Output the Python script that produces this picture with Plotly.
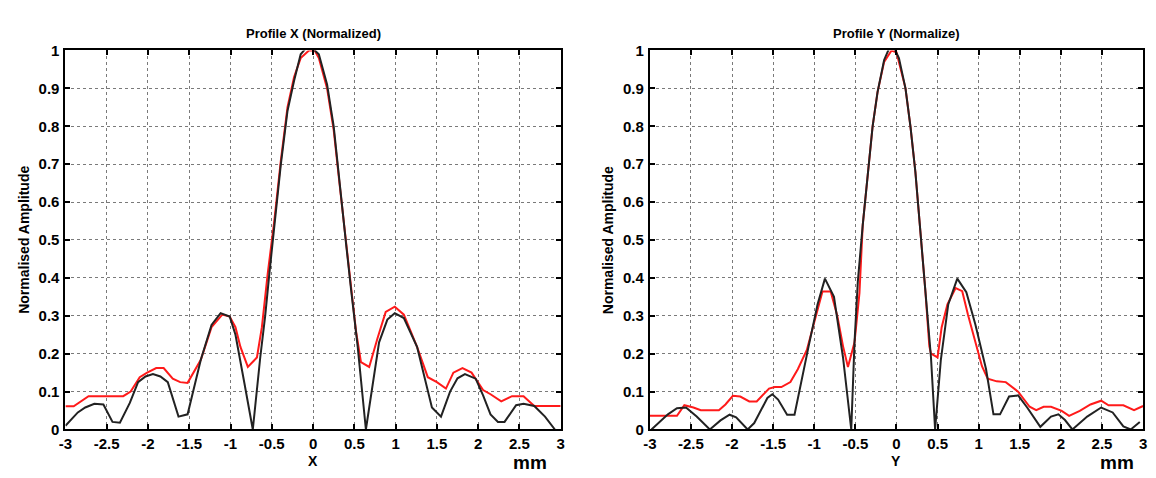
import plotly.graph_objects as go

# ---- data: Profile X ----
x_black_X = [-3.0, -2.85, -2.76, -2.65, -2.54, -2.43, -2.34, -2.22, -2.12, -2.03, -1.94, -1.85, -1.76,
             -1.63, -1.52, -1.44, -1.36, -1.23, -1.12, -1.01, -0.94, -0.83, -0.73, -0.64, -0.58, -0.53,
             -0.47, -0.39, -0.31, -0.23, -0.15, -0.05, 0.07, 0.17, 0.25, 0.32, 0.40, 0.46, 0.54, 0.64,
             0.72, 0.80, 0.90, 0.99, 1.10, 1.26, 1.44, 1.55, 1.66, 1.75, 1.84, 1.97, 2.06, 2.15, 2.24,
             2.32, 2.46, 2.55, 2.68, 2.81, 2.93]
y_black_X = [0.01, 0.045, 0.058, 0.068, 0.066, 0.02, 0.018, 0.07, 0.125, 0.14, 0.146, 0.14, 0.125,
             0.034, 0.04, 0.11, 0.184, 0.276, 0.307, 0.298, 0.25, 0.12, 0.0, 0.19, 0.30, 0.41,
             0.54, 0.70, 0.84, 0.92, 0.99, 1.015, 0.99, 0.91, 0.80, 0.65, 0.49, 0.37, 0.22, 0.0,
             0.12, 0.23, 0.29, 0.307, 0.294, 0.218, 0.058, 0.034, 0.10, 0.135, 0.146, 0.134, 0.09, 0.04, 0.02,
             0.02, 0.064, 0.068, 0.062, 0.034, 0.0]

x_red_X = [-3.0, -2.9, -2.72, -2.3, -2.21, -2.1, -2.01, -1.9, -1.81, -1.70, -1.61, -1.52, -1.36, -1.23,
           -1.1, -1.01, -0.94, -0.88, -0.79, -0.68, -0.62, -0.55, -0.47, -0.39, -0.31, -0.23, -0.15,
           -0.05, 0.02, 0.07, 0.17, 0.25, 0.32, 0.40, 0.46, 0.52, 0.58, 0.68, 0.78, 0.88, 0.99, 1.10,
           1.26, 1.39, 1.50, 1.61, 1.70, 1.81, 1.92, 2.06, 2.15, 2.28, 2.41, 2.55, 2.68, 3.0]
y_red_X = [0.061, 0.061, 0.088, 0.088, 0.10, 0.138, 0.15, 0.162, 0.162, 0.134, 0.125, 0.123, 0.184, 0.27,
           0.303, 0.298, 0.27, 0.218, 0.165, 0.19, 0.27, 0.41, 0.55, 0.71, 0.85, 0.93, 0.98,
           1.0, 1.0, 0.98, 0.90, 0.79, 0.65, 0.49, 0.38, 0.26, 0.178, 0.165, 0.24, 0.31, 0.324, 0.303,
           0.218, 0.138, 0.125, 0.108, 0.15, 0.162, 0.15, 0.104, 0.093, 0.074, 0.088, 0.088, 0.062, 0.062]

# ---- data: Profile Y ----
x_black_Y = [-2.98, -2.88, -2.78, -2.67, -2.56, -2.43, -2.27, -2.14, -2.03, -1.95, -1.81, -1.73, -1.57,
             -1.51, -1.44, -1.33, -1.24, -1.07, -0.96, -0.87, -0.76, -0.65, -0.55, -0.51, -0.47, -0.41,
             -0.35, -0.29, -0.23, -0.15, -0.06, 0.03, 0.11, 0.17, 0.23, 0.29, 0.35, 0.42, 0.47, 0.54,
             0.63, 0.74, 0.85, 0.96, 1.09, 1.18, 1.26, 1.37, 1.48, 1.59, 1.75, 1.88, 1.97, 2.05, 2.14,
             2.32, 2.49, 2.63, 2.76, 2.85, 2.96]
y_black_Y = [0.0, 0.02, 0.04, 0.056, 0.058, 0.034, 0.0, 0.024, 0.039, 0.032, 0.0, 0.017, 0.083,
             0.093, 0.079, 0.039, 0.039, 0.218, 0.33, 0.398, 0.35, 0.19, 0.0, 0.23, 0.39, 0.54,
             0.68, 0.80, 0.89, 0.975, 1.02, 0.98, 0.90, 0.80, 0.68, 0.53, 0.37, 0.19, 0.0, 0.184,
             0.33, 0.398, 0.362, 0.277, 0.159, 0.04, 0.04, 0.087, 0.09, 0.058, 0.007, 0.034, 0.04, 0.025, 0.0,
             0.034, 0.058, 0.045, 0.008, 0.0, 0.02]

x_red_Y = [-3.0, -2.67, -2.58, -2.47, -2.38, -2.16, -2.08, -1.99, -1.90, -1.79, -1.70, -1.55, -1.48,
           -1.40, -1.29, -1.20, -1.09, -0.98, -0.90, -0.80, -0.72, -0.65, -0.59, -0.51, -0.45, -0.41,
           -0.35, -0.29, -0.23, -0.15, -0.06, 0.0, 0.11, 0.17, 0.23, 0.29, 0.35, 0.40, 0.42, 0.50,
           0.55, 0.62, 0.72, 0.80, 0.87, 1.04, 1.11, 1.22, 1.33, 1.48, 1.62, 1.70, 1.79, 1.88, 2.01,
           2.10, 2.23, 2.36, 2.49, 2.58, 2.76, 2.89, 3.0]
y_red_Y = [0.036, 0.036, 0.064, 0.058, 0.051, 0.051, 0.066, 0.089, 0.087, 0.074, 0.074, 0.108, 0.112,
           0.112, 0.125, 0.159, 0.21, 0.303, 0.364, 0.364, 0.30, 0.22, 0.165, 0.23, 0.36, 0.54,
           0.68, 0.80, 0.89, 0.97, 1.0, 0.995, 0.90, 0.80, 0.68, 0.53, 0.37, 0.22, 0.20, 0.19,
           0.27, 0.33, 0.373, 0.365, 0.303, 0.167, 0.134, 0.127, 0.125, 0.10, 0.06, 0.051, 0.06, 0.06, 0.049,
           0.036, 0.049, 0.066, 0.076, 0.064, 0.064, 0.051, 0.062]

x_ticks = [-3, -2.5, -2, -1.5, -1, -0.5, 0, 0.5, 1, 1.5, 2, 2.5, 3]
x_tick_labels = ["-3", "-2.5", "-2", "-1.5", "-1", "-0.5", "0", "0.5", "1", "1.5", "2", "2.5", "3"]
y_ticks = [0, 0.1, 0.2, 0.3, 0.4, 0.5, 0.6, 0.7, 0.8, 0.9, 1]
y_tick_labels = ["0", "0.1", "0.2", "0.3", "0.4", "0.5", "0.6", "0.7", "0.8", "0.9", "1"]

titles = ["Profile X (Normalized)", "Profile Y (Normalize)"]
axis_names = ["X", "Y"]
y_title = "Normalised Amplitude"
unit = "mm"

FONT = "Liberation Sans Narrow, Liberation Sans, Arial, sans-serif"
W, H = 1156, 478

fig = go.Figure()
fig.add_trace(go.Scatter(x=x_red_X, y=y_red_X, mode="lines", line=dict(color="#ff1a1a", width=2),
                         xaxis="x", yaxis="y", showlegend=False))
fig.add_trace(go.Scatter(x=x_black_X, y=y_black_X, mode="lines", line=dict(color="#222222", width=2),
                         xaxis="x", yaxis="y", showlegend=False))
fig.add_trace(go.Scatter(x=x_red_Y, y=y_red_Y, mode="lines", line=dict(color="#ff1a1a", width=2),
                         xaxis="x2", yaxis="y2", showlegend=False))
fig.add_trace(go.Scatter(x=x_black_Y, y=y_black_Y, mode="lines", line=dict(color="#222222", width=2),
                         xaxis="x2", yaxis="y2", showlegend=False))

# pixel layout of the two plot frames
frames = [(59, 559), (649, 1147)]
top_px, bot_px = 43, 436
ydom = [1 - bot_px / H, 1 - top_px / H]

tickfont = dict(family=FONT, size=15, color="black", weight="bold")
axis_common = dict(showline=True, linecolor="black", linewidth=2, mirror="ticks",
                   ticks="inside", ticklen=5, tickwidth=1.5, tickcolor="black",
                   showgrid=True, gridcolor="#7a7a7a", gridwidth=1, griddash="dot",
                   zeroline=False, tickfont=tickfont)

bx = ["<b>%s</b>" % t for t in x_tick_labels]
by = ["<b>%s</b>" % t for t in y_tick_labels]

for i, (l, r) in enumerate(frames):
    sfx = "" if i == 0 else str(i + 1)
    fig.layout["xaxis" + sfx] = dict(domain=[l / W, r / W], range=[-3, 3], tickvals=x_ticks,
                                     ticktext=bx, anchor="y" + sfx, ticklabelstandoff=0,
                                     **axis_common)
    fig.layout["yaxis" + sfx] = dict(domain=ydom, range=[0, 1], tickvals=y_ticks,
                                     ticktext=by, anchor="x" + sfx, ticklabelstandoff=1,
                                     **axis_common)

unit_x = [528, 1121]
annotations = []
for i, (l, r) in enumerate(frames):
    cx = (l + r) / 2 / W
    annotations.append(dict(text="<b>%s</b>" % titles[i], x=cx, y=1 - 25 / H, xref="paper", yref="paper",
                            showarrow=False, xanchor="center", yanchor="middle",
                            font=dict(family=FONT, size=13, color="black", weight="bold")))
    annotations.append(dict(text="<b>%s</b>" % axis_names[i], x=cx, y=1 - 469 / H, xref="paper", yref="paper",
                            showarrow=False, xanchor="center", yanchor="middle",
                            font=dict(family=FONT, size=14, color="black", weight="bold")))
    annotations.append(dict(text="<b>%s</b>" % unit, x=unit_x[i] / W, y=1 - 470 / H, xref="paper", yref="paper",
                            showarrow=False, xanchor="center", yanchor="middle",
                            font=dict(family=FONT, size=19, color="black", weight="bold")))
    annotations.append(dict(text="<b>%s</b>" % y_title, x=(l - 42) / W, y=(ydom[0] + ydom[1]) / 2,
                            xref="paper", yref="paper", showarrow=False, textangle=-90,
                            xanchor="center", yanchor="middle",
                            font=dict(family=FONT, size=14, color="black", weight="bold")))

fig.update_layout(width=W, height=H, margin=dict(l=0, r=0, t=0, b=0),
                  paper_bgcolor="white", plot_bgcolor="white", annotations=annotations,
                  showlegend=False)

fig.write_html("out.html", config={"displayModeBar": False},
               post_script="document.body.style.margin='0';document.body.style.overflow='hidden';")
